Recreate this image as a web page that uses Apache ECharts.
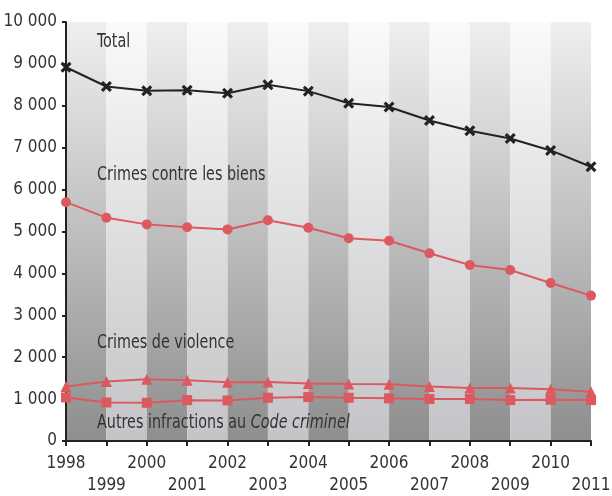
<!DOCTYPE html>
<html>
<head>
<meta charset="utf-8">
<script src="https://cdn.jsdelivr.net/npm/echarts@6/dist/echarts.min.js"></script>
<style>
html,body{margin:0;padding:0;background:#fff;}
#c{width:612px;height:496px;}
</style>
</head>
<body>
<div id="c"></div>
<script>
var years = ['1998','1999','2000','2001','2002','2003','2004','2005','2006','2007','2008','2009','2010','2011'];
var yTicks = [0,1000,2000,3000,4000,5000,6000,7000,8000,9000,10000];
var total = [8920,8460,8360,8370,8300,8500,8350,8060,7970,7650,7405,7220,6935,6545];
var biens = [5700,5330,5170,5100,5050,5270,5090,4840,4780,4480,4200,4080,3770,3470];
var violence = [1300,1420,1475,1450,1400,1410,1375,1360,1357,1302,1262,1262,1238,1175];
var autres = [1040,920,912,975,968,1032,1048,1032,1018,1000,1000,976,985,976];
var seriesLabels = ['Total','Crimes contre les biens','Crimes de violence','Autres infractions au {i|Code criminel}'];

var FONT = '"Liberation Sans Narrow","DejaVu Sans Condensed","Open Sans",sans-serif';
var RED = '#dc5960';
var xSym = 'path://M0,2 L2,0 L5,3 L8,0 L10,2 L7,5 L10,8 L8,10 L5,7 L2,10 L0,8 L3,5 Z';

function grad(top, bottom){
  return new echarts.graphic.LinearGradient(0,0,0,1,[{offset:0,color:top},{offset:1,color:bottom}]);
}
var chart = echarts.init(document.getElementById('c'), null, {renderer:'canvas'});
var labelPos = [[97,44],[97,177],[97,345],[97,425]];
chart.setOption({
  animation:false,
  backgroundColor:'#fff',
  grid:{left:66,right:21,top:22,bottom:55,containLabel:false,outerBoundsMode:'none'},
  xAxis:{
    type:'category', data:years, boundaryGap:false,
    axisLine:{show:true,lineStyle:{color:'#222',width:2}},
    axisTick:{show:true,length:5,lineStyle:{color:'#222',width:2}},
    axisLabel:{
      interval:0, margin:12, lineHeight:22, fontSize:17, fontFamily:FONT, color:'#333',
      formatter:function(v,i){ return (i%2===1) ? '\n'+v : v; }
    },
    splitLine:{show:false},
    splitArea:{show:true, interval:0, areaStyle:{color:[grad('#efefef','#8e8e8e'), grad('#fafafa','#c4c4c8')]}}
  },
  yAxis:{
    type:'value', min:0, max:10000, interval:1000,
    axisLine:{show:true,lineStyle:{color:'#222',width:2}},
    axisTick:{show:true,length:4,lineStyle:{color:'#222',width:2}},
    axisLabel:{margin:9, fontSize:17, fontFamily:FONT, color:'#333',
      formatter:function(v){ return v>=1000 ? String(v).replace(/(\d)(?=(\d{3})+$)/g,'$1 ') : String(v); }},
    splitLine:{show:true,lineStyle:{color:'#d2d2d2',type:'dashed',width:1}}
  },
  graphic: seriesLabels.map(function(t,i){
    return {type:'text', x:labelPos[i][0], y:labelPos[i][1]-11, scaleX:0.84, z:10,
      style:{text:t, font:'19px '+FONT, fill:'#333',
        rich:{i:{fontStyle:'italic', fontSize:19, fontFamily:FONT, fill:'#333'}}}};
  }),
  series:[
    {name:'Total',type:'line',data:total,symbol:xSym,symbolSize:11,
      lineStyle:{color:'#222',width:2},itemStyle:{color:'#222'}},
    {name:'Biens',type:'line',data:biens,symbol:'circle',symbolSize:10,
      lineStyle:{color:RED,width:2},itemStyle:{color:RED}},
    {name:'Violence',type:'line',data:violence,symbol:'triangle',symbolSize:11,
      lineStyle:{color:RED,width:2},itemStyle:{color:RED}},
    {name:'Autres',type:'line',data:autres,symbol:'rect',symbolSize:10,
      lineStyle:{color:RED,width:2},itemStyle:{color:RED}}
  ]
});
</script>
</body>
</html>
